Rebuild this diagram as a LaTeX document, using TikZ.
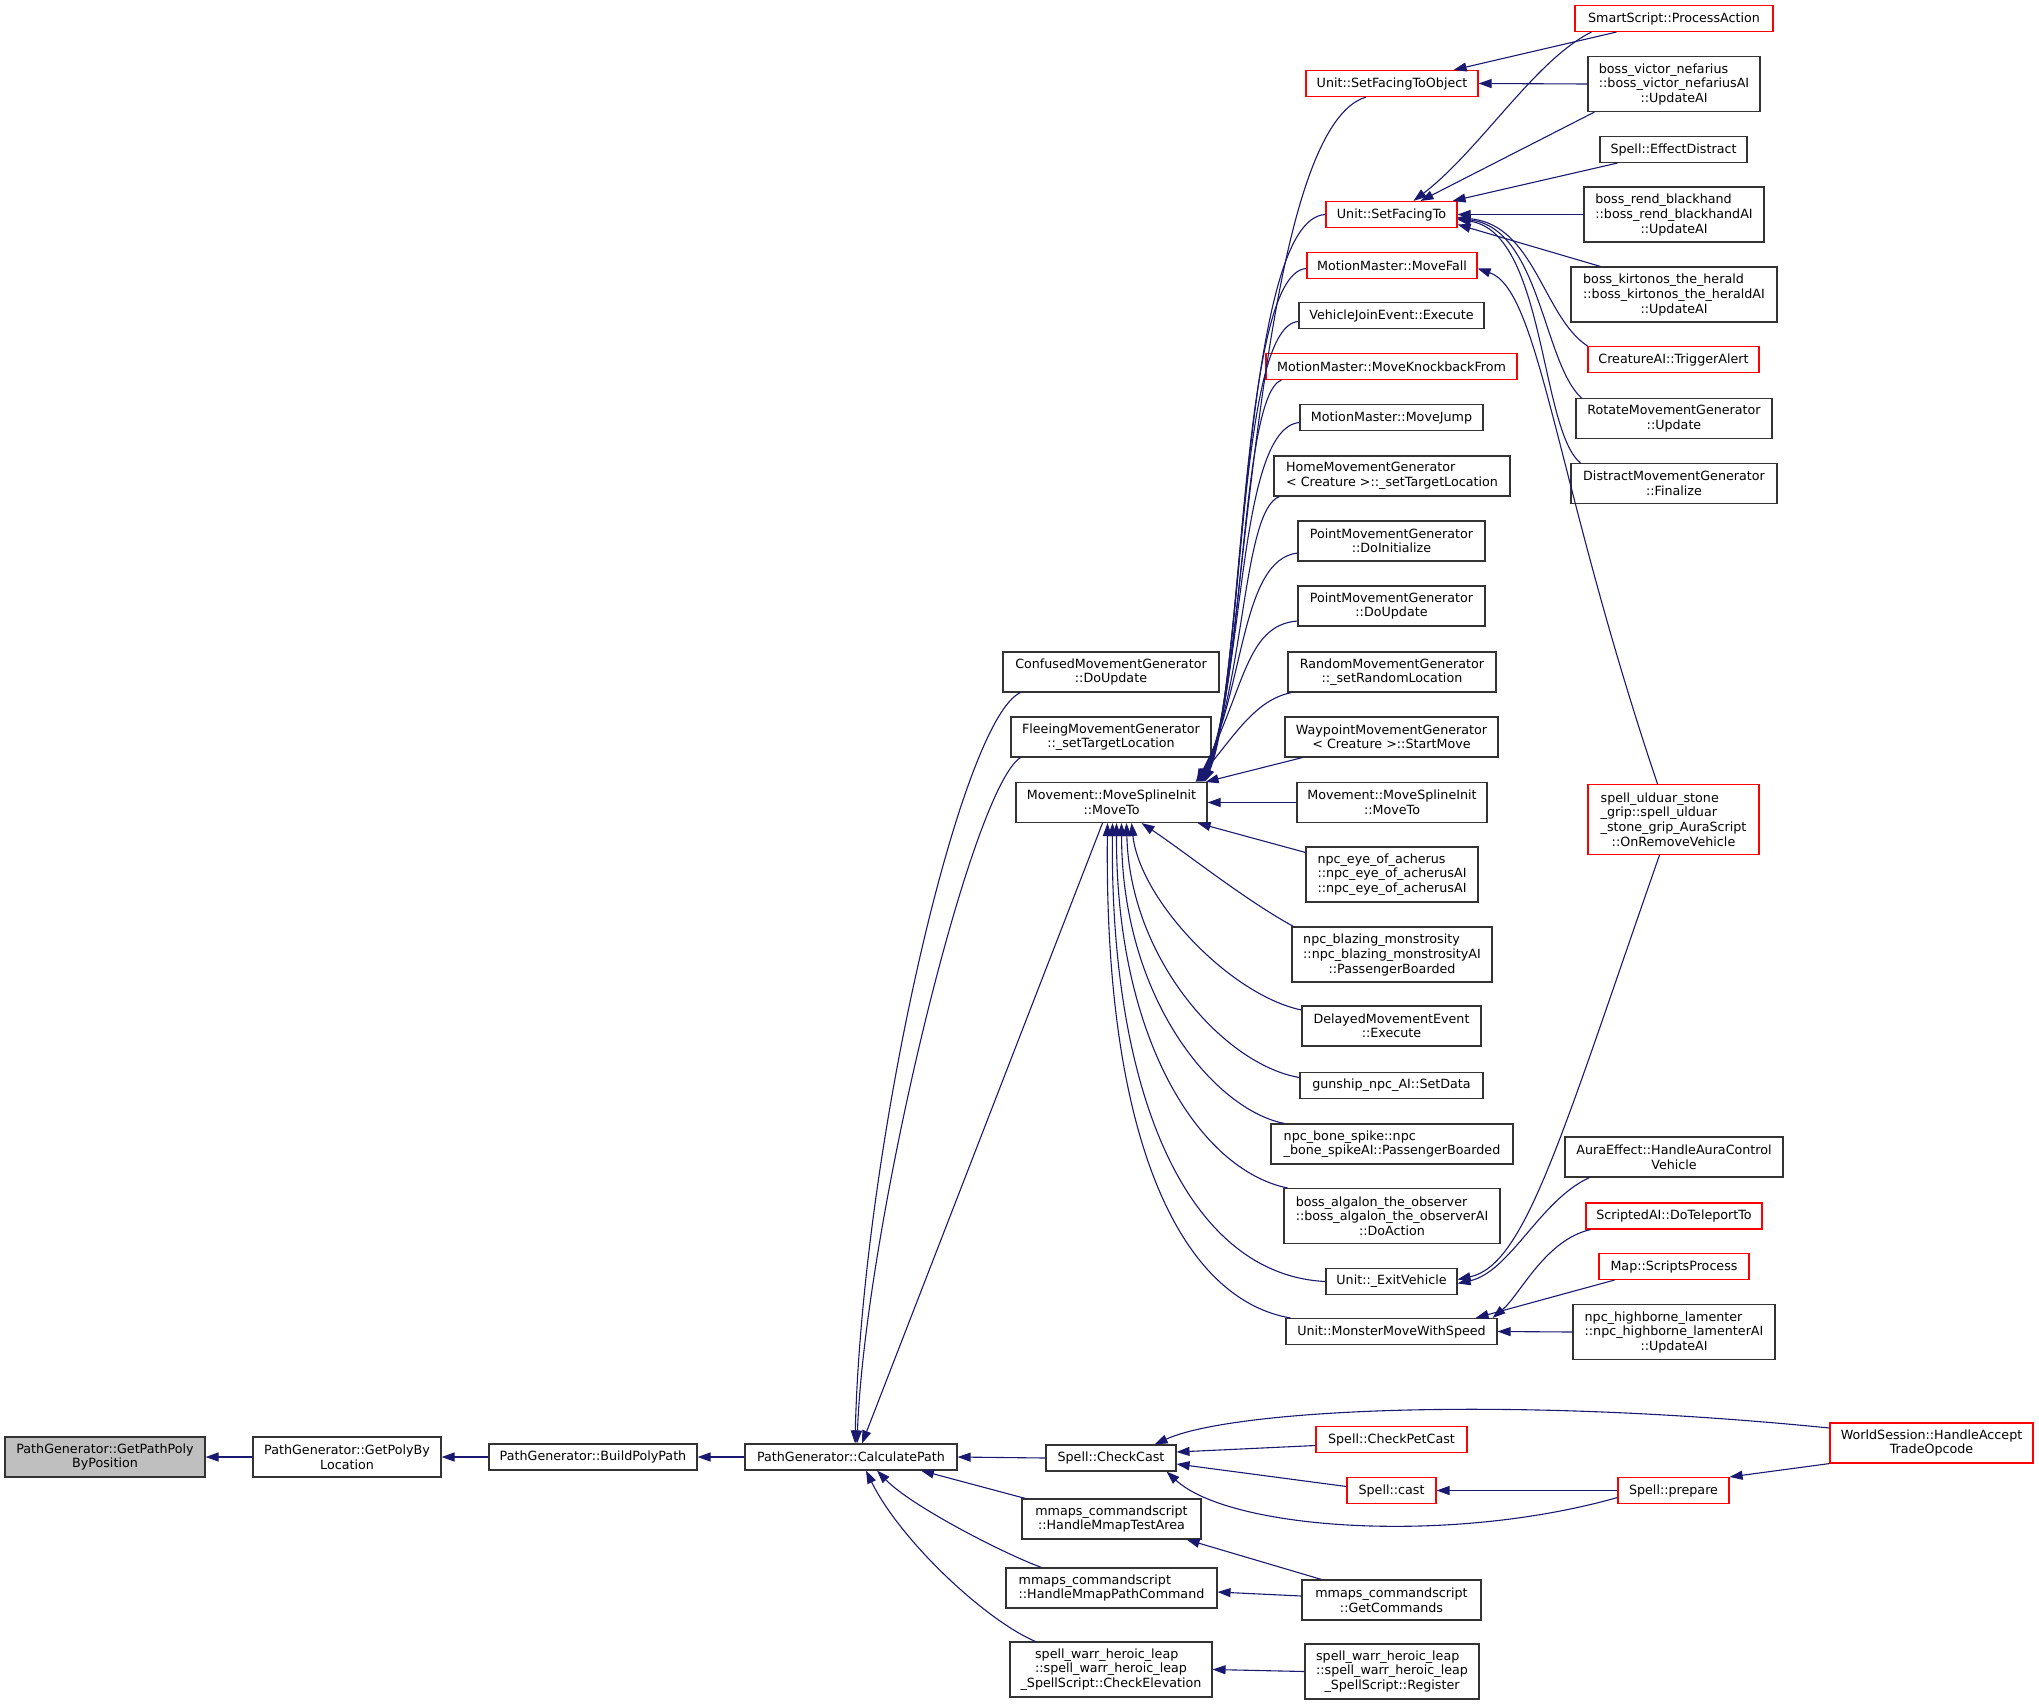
\documentclass[tikz,border=0pt]{standalone}
\usepackage{fontspec}
\setmainfont{DejaVu Sans}
\usetikzlibrary{arrows.meta}
\definecolor{edgeblue}{RGB}{25,25,112}
\definecolor{boxgrey}{RGB}{191,191,191}
\newcommand{\blk}[1]{\begin{tabular}{@{}l@{}}#1\end{tabular}}

\begin{document}
\begin{tikzpicture}[x=1pt, y=-1pt,
	fn/.style={draw=black!80, line width=1.1pt, fill=white, inner sep=0pt, align=center, font=\fontsize{12.7}{14.5}\selectfont},
	trunc/.style={fn, draw=red},
	l1/.style={minimum height=26pt},
	l2/.style={minimum height=40pt},
	l3/.style={minimum height=55pt},
	l4/.style={minimum height=70pt},
	call/.style={draw=edgeblue, line width=1.1pt, {Triangle[length=13pt,width=9pt]}-}]
	\useasboundingbox (0,0) rectangle (2039,1705);

	\node[fn, l2, fill=boxgrey, minimum width=200pt] (gpp) at (105,1457) {PathGenerator::GetPathPoly\\ByPosition};
	\node[fn, l2, minimum width=188pt] (gpl) at (347,1457) {PathGenerator::GetPolyBy\\Location};
	\node[fn, l1, minimum width=208pt] (bpp) at (593,1457) {PathGenerator::BuildPolyPath};
	\node[fn, l1, minimum width=212pt] (cp) at (851,1457) {PathGenerator::CalculatePath};

	\node[fn, l2, minimum width=216pt] (conf) at (1111,672) {ConfusedMovementGenerator\\::DoUpdate};
	\node[fn, l2, minimum width=200pt] (flee) at (1111,737) {FleeingMovementGenerator\\::\_setTargetLocation};
	\node[fn, l2, minimum width=191pt] (msi) at (1111.5,802.5) {Movement::MoveSplineInit\\::MoveTo};
	\node[fn, l1, minimum width=130pt] (chk) at (1111,1458) {Spell::CheckCast};
	\node[fn, l2, minimum width=179pt] (mtest) at (1111.5,1519) {mmaps\_commandscript\\::HandleMmapTestArea};
	\node[fn, l2, align=left, minimum width=211pt] (mpath) at (1111.5,1588) {mmaps\_commandscript\\::HandleMmapPathCommand};
	\node[fn, l3, minimum width=202pt] (elev) at (1111,1669.5) {\blk{spell\_warr\_heroic\_leap\\::spell\_warr\_heroic\_leap}\\\_SpellScript::CheckElevation};

	\node[trunc, l1, minimum width=172pt] (sfto) at (1392,83.5) {Unit::SetFacingToObject};
	\node[trunc, l1, minimum width=131pt] (sft) at (1391.5,214.5) {Unit::SetFacingTo};
	\node[trunc, l1, minimum width=170pt] (fall) at (1392,265.5) {MotionMaster::MoveFall};
	\node[fn, l1, minimum width=185pt] (vje) at (1391.5,315.5) {VehicleJoinEvent::Execute};
	\node[trunc, l1, minimum width=251pt] (knock) at (1391.5,366.5) {MotionMaster::MoveKnockbackFrom};
	\node[fn, l1, minimum width=183pt] (jump) at (1391.5,417.5) {MotionMaster::MoveJump};
	\node[fn, l2, align=left, minimum width=236pt] (home) at (1392,476) {HomeMovementGenerator\\< Creature >::\_setTargetLocation};
	\node[fn, l2, minimum width=187pt] (pinit) at (1391.5,541) {PointMovementGenerator\\::DoInitialize};
	\node[fn, l2, minimum width=187pt] (pupd) at (1391.5,606) {PointMovementGenerator\\::DoUpdate};
	\node[fn, l2, minimum width=208pt] (rand) at (1392,672) {RandomMovementGenerator\\::\_setRandomLocation};
	\node[fn, l2, minimum width=213pt] (wp) at (1391.5,737) {WaypointMovementGenerator\\< Creature >::StartMove};
	\node[fn, l2, minimum width=190pt] (msi2) at (1392,802.5) {Movement::MoveSplineInit\\::MoveTo};
	\node[fn, l3, align=left, minimum width=172pt] (eye) at (1392,874.5) {npc\_eye\_of\_acherus\\::npc\_eye\_of\_acherusAI\\::npc\_eye\_of\_acherusAI};
	\node[fn, l3, minimum width=200pt] (blaze) at (1392,954.5) {\blk{npc\_blazing\_monstrosity\\::npc\_blazing\_monstrosityAI}\\::PassengerBoarded};
	\node[fn, l2, minimum width=179pt] (delayed) at (1391.5,1026) {DelayedMovementEvent\\::Execute};
	\node[fn, l1, minimum width=183pt] (gun) at (1391.5,1085.5) {gunship\_npc\_AI::SetData};
	\node[fn, l2, align=left, minimum width=242pt] (bone) at (1392,1144) {npc\_bone\_spike::npc\\\_bone\_spikeAI::PassengerBoarded};
	\node[fn, l3, minimum width=216pt] (algalon) at (1392,1216) {\blk{boss\_algalon\_the\_observer\\::boss\_algalon\_the\_observerAI}\\::DoAction};
	\node[fn, l1, minimum width=131pt] (exitveh) at (1391.5,1281.5) {Unit::\_ExitVehicle};
	\node[fn, l1, minimum width=211pt] (mmws) at (1391.5,1331.5) {Unit::MonsterMoveWithSpeed};
	\node[trunc, l1, minimum width=151pt] (petcast) at (1391.5,1439.5) {Spell::CheckPetCast};
	\node[trunc, l1, minimum width=89pt] (cast) at (1391.5,1490.5) {Spell::cast};
	\node[fn, l2, minimum width=179pt] (getcmd) at (1391.5,1600) {mmaps\_commandscript\\::GetCommands};
	\node[fn, l3, minimum width=174pt] (reg) at (1392,1671.5) {\blk{spell\_warr\_heroic\_leap\\::spell\_warr\_heroic\_leap}\\\_SpellScript::Register};

	\node[trunc, l1, minimum width=198pt] (smart) at (1674,18.5) {SmartScript::ProcessAction};
	\node[fn, l3, minimum width=172pt] (victor) at (1674,84) {\blk{boss\_victor\_nefarius\\::boss\_victor\_nefariusAI}\\::UpdateAI};
	\node[fn, l1, minimum width=147pt] (distract) at (1673.5,149.5) {Spell::EffectDistract};
	\node[fn, l3, minimum width=180pt] (rend) at (1674,214.5) {\blk{boss\_rend\_blackhand\\::boss\_rend\_blackhandAI}\\::UpdateAI};
	\node[fn, l3, minimum width=206pt] (kirt) at (1674,294.5) {\blk{boss\_kirtonos\_the\_herald\\::boss\_kirtonos\_the\_heraldAI}\\::UpdateAI};
	\node[trunc, l1, minimum width=171pt] (alert) at (1673.5,359.5) {CreatureAI::TriggerAlert};
	\node[fn, l2, minimum width=196pt] (rotate) at (1674,418.5) {RotateMovementGenerator\\::Update};
	\node[fn, l2, minimum width=206pt] (dmg) at (1674,483.5) {DistractMovementGenerator\\::Finalize};
	\node[trunc, l4, minimum width=171pt] (ulduar) at (1673.5,819.5) {\blk{spell\_ulduar\_stone\\\_grip::spell\_ulduar\\\_stone\_grip\_AuraScript}\\::OnRemoveVehicle};
	\node[fn, l2, minimum width=218pt] (aura) at (1674,1157) {AuraEffect::HandleAuraControl\\Vehicle};
	\node[trunc, l1, minimum width=176pt] (tele) at (1674,1216) {ScriptedAI::DoTeleportTo};
	\node[trunc, l1, minimum width=150pt] (scripts) at (1674,1266.5) {Map::ScriptsProcess};
	\node[fn, l3, minimum width=202pt] (highborne) at (1674,1332) {\blk{npc\_highborne\_lamenter\\::npc\_highborne\_lamenterAI}\\::UpdateAI};
	\node[trunc, l1, minimum width=111pt] (prepare) at (1673.5,1490.5) {Spell::prepare};

	\node[trunc, l2, minimum width=203pt] (world) at (1931.5,1443) {WorldSession::HandleAccept\\TradeOpcode};

	\draw[call] (gpp.east) -- (gpl.west);
	\draw[call] (gpl.east) -- (bpp.west);
	\draw[call] (bpp.east) -- (cp.west);
	\draw[call] (cp.east) -- (chk.west);
	\draw[call] ([xshift=4pt]cp.north) .. controls (862,1150) and (960,720) .. ([xshift=18pt]conf.south west);
	\draw[call] ([xshift=6pt]cp.north) .. controls (865,1230) and (970,790) .. ([xshift=10pt]flee.south west);
	\draw[call] ([xshift=11pt]cp.north) -- ([xshift=-9pt]msi.south);
	\draw[call] ([xshift=70pt]cp.south) -- ([xshift=4pt]mtest.north west);
	\draw[call] ([xshift=26pt]cp.south) .. controls (910,1505) and (1000,1552) .. ([xshift=36pt]mpath.north west);
	\draw[call] ([xshift=15pt]cp.south) .. controls (900,1540) and (985,1620) .. ([xshift=26pt]elev.north west);

	\draw[call] ([xshift=-3pt]msi.north east) .. controls (1245,690) and (1255,130) .. ([xshift=-26pt]sfto.south);
	\draw[call] ([xshift=-4pt]msi.north east) .. controls (1245,690) and (1240,218) .. (sft.west);
	\draw[call] ([xshift=-5pt]msi.north east) .. controls (1245,690) and (1238,272) .. ([yshift=-3pt]fall.west);
	\draw[call] ([xshift=-6pt]msi.north east) .. controls (1245,690) and (1236,325) .. ([yshift=-6pt]vje.west);
	\draw[call] ([xshift=-7pt]msi.north east) .. controls (1245,690) and (1240,395) .. ([xshift=16pt]knock.south west);
	\draw[call] ([xshift=-8pt]msi.north east) .. controls (1245,690) and (1236,428) .. ([yshift=-5pt]jump.west);
	\draw[call] ([xshift=-9pt]msi.north east) .. controls (1245,690) and (1242,510) .. ([xshift=6pt]home.south west);
	\draw[call] ([xshift=-10pt]msi.north east) .. controls (1245,690) and (1240,560) .. ([yshift=-12pt]pinit.west);
	\draw[call] ([xshift=-11pt]msi.north east) .. controls (1245,690) and (1245,625) .. ([yshift=-15pt]pupd.west);
	\draw[call] ([xshift=-12pt]msi.north east) .. controls (1235,735) and (1255,700) .. ([xshift=4pt]rand.south west);
	\draw[call] ([xshift=-2pt]msi.north east) -- ([xshift=18pt]wp.south west);
	\draw[call] (msi.east) -- (msi2.west);
	\draw[call] ([xshift=-10pt]msi.south east) -- ([yshift=-6pt]eye.north west);
	\draw[call] ([xshift=30pt]msi.south) .. controls (1185,852) and (1245,900) .. ([xshift=2pt]blaze.north west);
	\draw[call] ([xshift=20pt]msi.south) .. controls (1140,900) and (1230,995) .. ([yshift=16pt]delayed.west);
	\draw[call] ([xshift=15pt]msi.south) .. controls (1130,960) and (1225,1065) .. ([yshift=8pt]gun.west);
	\draw[call] ([xshift=10pt]msi.south) .. controls (1122,1000) and (1215,1110) .. ([xshift=14pt]bone.north west);
	\draw[call] ([xshift=5pt]msi.south) .. controls (1116,1040) and (1200,1170) .. ([xshift=4pt]algalon.north west);
	\draw[call] ([xshift=1pt]msi.south) .. controls (1110,1100) and (1190,1275) .. (exitveh.west);
	\draw[call] ([xshift=-4pt]msi.south) .. controls (1104,1150) and (1185,1300) .. ([xshift=5pt]mmws.north west);

	\draw[call] ([xshift=-25pt]sfto.north east) -- ([xshift=42pt]smart.south west);
	\draw[call] (sfto.east) -- (victor.west);
	\draw[call] ([xshift=22pt]sft.north) .. controls (1480,150) and (1535,60) .. ([xshift=17pt]smart.south west);
	\draw[call] ([xshift=29pt]sft.north) -- ([xshift=7pt]victor.south west);
	\draw[call] ([xshift=-5pt]sft.north east) -- ([xshift=18pt]distract.south west);
	\draw[call] (sft.east) -- (rend.west);
	\draw[call] ([yshift=-10pt]sft.east) -- ([xshift=30pt]kirt.north west);
	\draw[call] ([yshift=-3pt]sft.east) .. controls (1535,225) and (1543,317) .. (alert.north west);
	\draw[call] ([yshift=-4pt]sft.east) .. controls (1540,228) and (1543,363) .. ([xshift=6pt]rotate.north west);
	\draw[call] ([yshift=-5pt]sft.east) .. controls (1545,232) and (1540,430) .. ([xshift=10pt]dmg.north west);
	\draw[call] ([yshift=-3pt]fall.east) .. controls (1540,290) and (1555,480) .. ([xshift=-16pt]ulduar.north);

	\draw[call] ([yshift=2pt]exitveh.east) .. controls (1525,1265) and (1560,1140) .. ([xshift=-14pt]ulduar.south);
	\draw[call] ([yshift=-2pt]exitveh.east) .. controls (1510,1272) and (1540,1200) .. ([xshift=25pt]aura.south west);
	\draw[call] ([xshift=-5pt]mmws.north east) .. controls (1520,1295) and (1545,1240) .. ([xshift=5pt]tele.south west);
	\draw[call] ([xshift=-22pt]mmws.north east) -- ([xshift=16pt]scripts.south west);
	\draw[call] (mmws.east) -- (highborne.west);

	\draw[call] ([xshift=-22pt]chk.north east) .. controls (1230,1410) and (1500,1395) .. ([yshift=15pt]world.west);
	\draw[call] ([yshift=6pt]chk.east) -- ([yshift=-6pt]petcast.west);
	\draw[call] ([yshift=-6pt]chk.east) -- ([yshift=4pt]cast.west);
	\draw[call] ([xshift=-10pt]chk.south east) .. controls (1230,1530) and (1450,1545) .. ([yshift=-7pt]prepare.west);
	\draw[call] (cast.east) -- (prepare.west);
	\draw[call] (prepare.north east) -- (world.south west);
	\draw[call] ([xshift=-15pt]mtest.south east) -- ([xshift=20pt]getcmd.north west);
	\draw[call] ([yshift=-4pt]mpath.east) -- ([yshift=4pt]getcmd.west);
	\draw[call] (elev.east) -- (reg.west);
\end{tikzpicture}
\end{document}
